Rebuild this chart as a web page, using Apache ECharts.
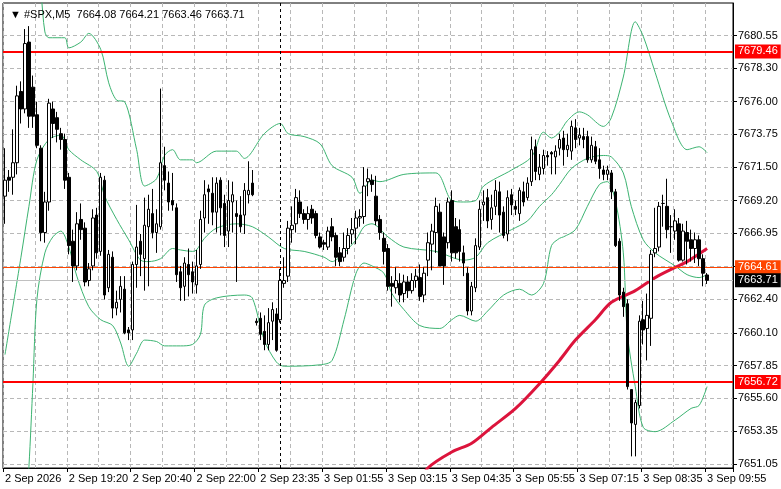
<!DOCTYPE html>
<html><head><meta charset="utf-8">
<script src="https://cdn.jsdelivr.net/npm/echarts@6/dist/echarts.min.js"></script>
<style>html,body{margin:0;padding:0;background:#fff}#c{width:781px;height:489px}</style>
</head><body><div id="c"></div>
<script>
const timeLabels = ['2 Sep 2026','2 Sep 19:20','2 Sep 20:40','2 Sep 22:00','2 Sep 23:35','3 Sep 01:55','3 Sep 03:15','3 Sep 04:35','3 Sep 05:55','3 Sep 07:15','3 Sep 08:35','3 Sep 09:55'];
const priceTicks = [7651.05,7653.35,7655.60,7657.85,7660.10,7662.40,7664.65,7666.95,7669.20,7671.50,7673.75,7676.00,7678.30,7680.55];
const opens = [7669.5,7670.8,7670.8,7671.8,7676.7,7675.5,7680.1,7677.0,7675.1,7672.8,7667.0,7669.1,7675.5,7674.9,7673.8,7673.4,7670.8,7666.4,7664.7,7667.9,7667.3,7663.7,7664.7,7668.2,7665.7,7670.6,7663.2,7665.3,7661.8,7662.4,7663.1,7660.3,7660.3,7664.8,7666.4,7665.2,7667.4,7668.3,7667.0,7667.4,7671.6,7670.4,7669.2,7668.7,7664.3,7663.3,7664.8,
7664.3,7663.4,7664.8,7668.0,7670.0,7669.7,7668.4,7670.6,7669.0,7667.1,7669.1,7668.3,7668.2,7668.2,7669.6,7670.4,7660.9,7661.1,7660.2,7659.3,7660.9,7661.4,7661.0,7663.5,7664.0,7667.2,7667.6,7669.1,7668.3,7667.9,7668.6,7668.3,7666.7,7666.3,7666.0,7667.4,7666.8,7665.6,7665.3,7665.9,7666.9,7667.3,7668.0,7668.1,7670.5,7670.6,
7669.5,7667.9,7666.6,7665.9,7663.5,7663.2,7663.5,7662.8,7663.6,7663.0,7663.7,7663.9,7662.7,7665.1,7666.2,7667.0,7668.4,7666.7,7666.3,7669.2,7667.4,7667.2,7665.6,7664.2,7661.6,7663.2,7666.0,7668.9,7669.4,7667.9,7668.8,7669.8,7668.4,7666.9,7669.6,7668.8,7668.3,7669.8,7669.4,7670.5,7672.9,7671.0,7671.4,7672.3,7672.5,7672.2,7672.8,
7673.5,7672.7,7672.6,7674.2,7673.5,7673.6,7673.6,7672.0,7672.9,7672.0,7671.3,7671.0,7671.1,7669.8,7666.4,7662.9,7662.1,7656.2,7653.8,7655.1,7661.0,7660.4,7661.1,7665.6,7666.0,7669.0,7668.8,7667.4,7667.1,7667.6,7665.1,7667.0,7666.5,7665.9,7666.5,7665.2,7664.08];
const closes = [7670.6,7670.6,7671.8,7676.4,7675.5,7680.0,7675.0,7675.0,7673.0,7667.0,7669.1,7675.9,7674.5,7674.1,7673.4,7670.6,7666.1,7664.7,7667.6,7667.2,7663.6,7664.5,7668.0,7665.6,7670.8,7662.7,7665.5,7661.8,7662.2,7663.3,7660.1,7660.1,7664.8,7666.0,7665.5,7667.5,7668.6,7667.0,7667.6,7671.8,7670.6,7669.1,7668.9,7664.1,7663.2,7664.9,7664.1,
7663.6,7664.7,7667.9,7669.6,7669.8,7668.4,7670.4,7668.7,7666.8,7669.2,7669.6,7668.1,7667.4,7669.9,7669.9,7669.6,7660.8,7660.0,7659.3,7660.8,7661.7,7658.9,7663.7,7663.7,7667.3,7667.5,7669.4,7668.3,7667.9,7668.3,7668.0,7666.8,7666.0,7666.2,7667.1,7666.7,7665.3,7665.0,7665.9,7666.8,7667.2,7668.0,7668.1,7670.2,7670.7,7670.3,
7667.8,7667.0,7665.7,7663.3,7663.3,7663.7,7662.7,7663.6,7663.0,7663.7,7664.0,7662.6,7664.2,7666.3,7667.1,7668.8,7664.7,7664.7,7669.1,7665.6,7665.6,7665.7,7664.9,7661.6,7663.3,7666.1,7668.6,7669.1,7667.8,7668.7,7669.9,7668.2,7666.8,7669.4,7668.9,7668.6,7669.9,7669.1,7670.4,7672.7,7671.2,7671.5,7672.3,7672.2,7672.4,7672.6,7673.4,
7672.7,7673.0,7674.3,7673.4,7673.7,7673.4,7672.0,7673.0,7671.9,7671.4,7671.0,7671.3,7669.8,7666.1,7662.7,7661.9,7656.4,7653.9,7655.3,7660.9,7660.3,7661.3,7665.5,7665.9,7668.8,7669.0,7667.2,7667.4,7667.8,7665.1,7667.1,7666.4,7665.9,7666.5,7665.2,7664.2,7663.71];
const lows = [7667.6,7669.8,7669.6,7671.0,7674.5,7675.2,7674.2,7674.2,7672.8,7666.4,7666.3,7668.5,7673.5,7673.2,7672.7,7670.0,7665.5,7663.6,7664.4,7666.5,7663.3,7663.3,7664.4,7665.2,7665.4,7662.4,7662.9,7661.1,7661.3,7661.5,7660.0,7659.6,7659.6,7663.2,7664.0,7663.0,7663.3,7666.6,7665.6,7667.2,7669.9,7668.5,7668.5,7663.6,7662.3,7662.3,7662.6,
7662.8,7662.8,7664.5,7667.0,7667.6,7667.5,7667.0,7666.8,7666.0,7666.0,7667.0,7663.6,7667.0,7666.9,7669.0,7669.5,7660.6,7659.6,7658.9,7658.9,7659.6,7658.8,7660.8,7663.2,7663.6,7666.3,7667.0,7668.0,7667.6,7667.2,7667.6,7666.6,7665.9,7665.8,7665.8,7666.4,7664.7,7664.7,7665.0,7665.5,7666.2,7666.2,7667.4,7667.6,7669.5,7669.8,
7667.5,7666.5,7664.8,7663.0,7661.9,7662.8,7662.2,7662.2,7662.5,7662.8,7663.2,7662.3,7662.2,7664.0,7664.4,7665.6,7664.7,7663.4,7665.9,7665.0,7665.2,7665.0,7664.0,7661.3,7661.3,7662.9,7665.8,7667.8,7667.3,7667.2,7668.2,7667.0,7666.6,7666.4,7668.2,7668.2,7667.8,7668.8,7669.2,7670.2,7670.6,7670.6,7671.0,7671.6,7671.0,7671.0,7672.3,
7671.6,7672.2,7672.0,7672.8,7673.0,7672.8,7671.8,7671.8,7671.7,7670.7,7670.6,7670.6,7669.3,7666.0,7662.3,7661.2,7656.2,7651.6,7651.6,7654.9,7659.3,7658.2,7659.2,7665.3,7665.7,7667.4,7666.6,7665.6,7666.5,7665.0,7665.0,7664.8,7665.0,7664.9,7664.7,7663.3,7663.46];
const highs = [7672.8,7671.3,7674.1,7677.1,7677.4,7681.0,7681.2,7677.8,7676.0,7673.0,7669.8,7676.2,7676.0,7675.3,7674.2,7673.8,7671.1,7667.2,7668.4,7669.0,7667.7,7664.9,7668.6,7668.7,7671.1,7670.9,7665.8,7665.7,7663.0,7664.0,7664.0,7660.5,7665.0,7668.9,7666.9,7669.4,7669.6,7670.0,7668.6,7676.9,7672.9,7671.2,7671.1,7669.0,7664.7,7665.3,7665.9,
7665.0,7665.8,7668.5,7670.6,7670.3,7670.8,7670.8,7670.8,7669.6,7670.6,7670.5,7669.2,7669.5,7670.4,7671.9,7671.3,7661.1,7661.5,7661.3,7661.8,7662.2,7661.8,7664.5,7665.3,7667.8,7668.8,7670.0,7669.9,7668.6,7668.8,7668.9,7668.5,7667.0,7666.5,7667.4,7668.0,7667.0,7666.0,7667.0,7667.3,7668.0,7668.5,7668.6,7671.5,7671.4,7671.0,
7670.9,7668.2,7667.0,7666.2,7664.0,7664.6,7664.2,7664.1,7664.0,7664.2,7664.5,7664.8,7664.6,7667.0,7667.6,7669.4,7669.0,7667.0,7669.4,7669.9,7668.0,7667.9,7666.1,7664.6,7663.6,7666.6,7669.2,7669.9,7670.0,7669.6,7670.6,7670.5,7668.8,7669.9,7670.0,7669.2,7670.1,7670.5,7670.8,7673.6,7673.4,7672.4,7672.7,7672.6,7672.6,7673.0,7673.8,
7674.0,7673.8,7674.7,7674.8,7674.2,7674.2,7674.0,7673.6,7673.3,7672.8,7671.6,7671.6,7671.3,7670.0,7666.6,7663.2,7662.4,7656.2,7655.5,7661.3,7662.3,7662.8,7665.8,7668.7,7669.1,7669.6,7670.7,7668.2,7668.6,7668.0,7667.6,7667.8,7667.2,7667.0,7666.8,7665.5,7664.21];
const bbUpper = [[8,7685.0],[9,7683.5],[10,7680.8],[11,7680.4],[15,7680.4],[16,7679.7],[19,7680.1],[21,7680.7],[24,7679.6],[26,7677.3],[28,7676.1],[30,7676.0],[33,7672.7],[35,7670.2],[38,7670.7],[40,7672.3],[42,7672.7],[44,7672.0],[47,7672.0],[48,7671.8],[53,7672.6],[58,7672.6],[60,7672.1],[65,7673.8],[69,7674.5],[71,7673.8],[75,7673.6],[79,7673.1],[82,7671.6],[87,7670.8],[89,7669.7],[92,7670.6],[94,7670.5],[100,7671.0],[108,7671.1],[112,7669.2],[115,7669.1],[118,7669.2],[120,7670.2],[127,7671.3],[132,7672.2],[135,7673.9],[137,7673.5],[139,7673.9],[141,7674.7],[144,7675.3],[146,7675.1],[150,7674.3],[152,7674.9],[155,7677.7],[158,7681.5],[160,7680.5],[163,7678.0],[167,7674.7],[171,7672.7],[174,7672.9],[176,7672.5]];
const bbMiddle = [[0,7658.6],[4,7665.3],[6,7668.8],[8,7672.0],[11,7673.4],[14,7673.7],[16,7672.7],[19,7672.0],[23,7671.2],[25,7669.5],[28,7667.9],[31,7666.5],[34,7665.1],[36,7665.0],[39,7665.2],[42,7665.9],[44,7665.8],[47,7665.7],[48,7665.8],[50,7666.6],[53,7667.3],[58,7667.6],[62,7667.4],[66,7666.7],[70,7665.9],[75,7665.7],[80,7665.3],[82,7665.0],[85,7665.6],[88,7666.5],[90,7667.4],[92,7667.6],[96,7666.7],[100,7666.0],[108,7665.7],[115,7665.1],[118,7665.3],[121,7666.3],[127,7667.2],[131,7667.8],[134,7668.8],[137,7669.6],[139,7670.3],[142,7671.4],[146,7672.1],[150,7672.3],[152,7672.2],[155,7671.1],[157,7668.8],[160,7666.5],[163,7665.6],[168,7664.7],[171,7664.1],[174,7663.9],[176,7664.1]];
const bbLower = [[5,7647.0],[6,7650.9],[7,7656.6],[8,7662.4],[10,7665.6],[12,7666.7],[14,7667.1],[16,7666.0],[18,7664.0],[21,7661.9],[24,7661.0],[27,7660.6],[29,7659.4],[31,7657.8],[33,7658.7],[35,7659.6],[38,7659.5],[40,7659.2],[44,7659.2],[47,7659.3],[49,7660.0],[50,7662.0],[53,7662.5],[60,7662.7],[62,7662.5],[65,7659.6],[68,7658.1],[70,7657.8],[79,7657.9],[82,7658.2],[85,7661.0],[88,7664.2],[90,7664.9],[92,7664.7],[95,7664.2],[97,7662.8],[100,7661.7],[104,7660.6],[109,7660.4],[112,7661.0],[114,7661.3],[118,7660.9],[121,7661.6],[125,7662.7],[129,7663.1],[132,7662.7],[135,7663.5],[137,7666.1],[139,7666.6],[140,7666.7],[143,7667.2],[146,7668.8],[149,7670.3],[151,7670.5],[153,7669.2],[155,7665.6],[156,7660.1],[158,7656.4],[160,7653.6],[163,7653.3],[168,7654.1],[172,7654.9],[174,7655.1],[176,7656.4]];
const maLine = [[104,7649.8],[106,7650.8],[112,7651.9],[117,7652.5],[122,7653.6],[128,7654.9],[134,7656.6],[139,7658.2],[143,7659.6],[148,7661.0],[152,7662.2],[158,7663.0],[163,7663.9],[168,7664.6],[171,7665.0],[176,7665.9]];
const levels = [7679.46, 7664.61, 7656.72];
const lastPrice = 7663.71;
const cursorBar = 69;

const nBars = opens.length, pad = 6;
const cats = [];
for (let i = 0; i < nBars + pad; i++) cats.push(i % 16 === 0 && i / 16 < timeLabels.length ? timeLabels[i / 16] : '');
const candles = opens.map((o, i) => [o, closes[i], lows[i], highs[i]]);
const font = 'Liberation Sans';
const lbl = (bg) => ({show: true, position: 'end', formatter: p => p.value.toFixed(2), color: '#fff', backgroundColor: bg, padding: [2, 3, 1, 3], fontSize: 11, fontFamily: font, distance: 2});
const band = d => ({type: 'line', data: d, smooth: 0.3, symbol: 'none', lineStyle: {color: '#3cb371', width: 1}, silent: true, z: 3});

const chart = echarts.init(document.getElementById('c'));
chart.setOption({
  animation: false,
  backgroundColor: '#fff',
  title: {text: '\u25BC #SPX,M5  7664.08 7664.21 7663.46 7663.71', left: 5, top: 4, textStyle: {fontSize: 11, fontWeight: 'normal', color: '#000', fontFamily: font}},
  grid: {left: 3, top: 3, right: 48, bottom: 21, show: true, borderColor: '#000', borderWidth: 1},
  xAxis: {type: 'category', data: cats, boundaryGap: true,
    axisLine: {lineStyle: {color: '#000'}},
    axisTick: {show: true, interval: i => i % 16 === 0 && i < nBars, lineStyle: {color: '#000'}, length: 4},
    axisLabel: {interval: 0, hideOverlap: false, align: 'left', color: '#000', fontSize: 11, fontFamily: font, margin: 5},
    splitLine: {show: true, interval: i => i % 8 === 0 && i < nBars + 2, lineStyle: {color: '#b8b8b8', type: [4, 3]}}},
  yAxis: {type: 'value', position: 'right', min: 7650.80, max: 7682.79, scale: true,
    axisLine: {show: true, lineStyle: {color: '#000'}},
    axisTick: {show: true, customValues: priceTicks, length: 4, lineStyle: {color: '#000'}},
    axisLabel: {customValues: priceTicks, formatter: v => v.toFixed(2), color: '#000', fontSize: 11, fontFamily: font, margin: 5},
    splitLine: {show: true, lineStyle: {color: '#b8b8b8', type: [4, 3]}}},
  series: [
    band(bbUpper), band(bbMiddle), band(bbLower),
    {type: 'line', data: maLine, smooth: 0.3, symbol: 'none', lineStyle: {color: '#dc143c', width: 3}, silent: true, z: 4},
    {type: 'candlestick', data: candles, barWidth: 3, z: 5,
      itemStyle: {color: '#fff', color0: '#000', borderColor: '#000', borderColor0: '#000', borderWidth: 1},
      markLine: {symbol: 'none', silent: true, animation: false,
        data: [
          {yAxis: levels[0], lineStyle: {color: '#ff0000', width: 2, type: 'solid'}, label: lbl('#ff0000')},
          {yAxis: levels[1], lineStyle: {color: '#ff4500', width: 1, type: 'solid'}, label: lbl('#ff4500')},
          {yAxis: levels[2], lineStyle: {color: '#ff0000', width: 2, type: 'solid'}, label: lbl('#ff0000')},
          {yAxis: lastPrice, lineStyle: {color: '#c0c0c0', width: 1, type: 'solid'}, label: lbl('#000')},
          {xAxis: cursorBar, lineStyle: {color: '#000', width: 1, type: [3, 3]}, label: {show: false}}
        ]}}
  ]
});
</script></body></html>
